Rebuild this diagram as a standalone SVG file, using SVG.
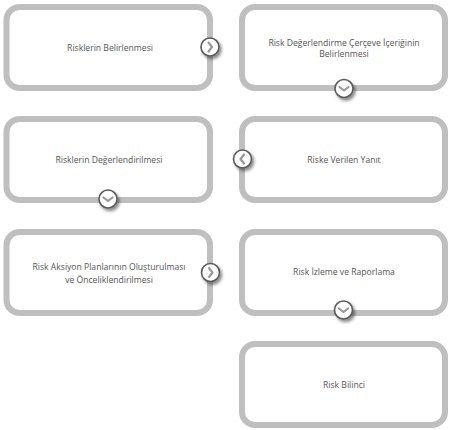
<svg xmlns="http://www.w3.org/2000/svg" width="450" height="430" viewBox="0 0 450 430">
<style>
.box{fill:#fff;stroke:#bfbfbf;stroke-width:6}
.t{font-family:"Open Sans",Lato,sans-serif;font-size:8.6px;fill:#555;text-anchor:middle;dominant-baseline:central}
.c{fill:#fff;stroke:#5a5a5a;stroke-width:1.6}
.ch{fill:none;stroke:#999;stroke-width:2.2;stroke-linecap:round;stroke-linejoin:round}
</style>
<defs>
<filter id="sh" x="-50%" y="-50%" width="200%" height="200%">
<feDropShadow dx="2" dy="2.5" stdDeviation="1.6" flood-color="#000" flood-opacity="0.45"/>
</filter>
<g id="right"><circle class="c" r="9" filter="url(#sh)"/><path class="ch" d="M-1.5,-4.5 L2,0 L-1.5,4.5"/></g>
<g id="left"><circle class="c" r="9" filter="url(#sh)"/><path class="ch" d="M1.5,-4.5 L-2,0 L1.5,4.5"/></g>
<g id="down"><circle class="c" r="9" filter="url(#sh)"/><path class="ch" d="M-4.5,-1.5 L0,2 L4.5,-1.5"/></g>
</defs>
<g id="n1"><rect class="box" x="6.5" y="7" width="203.5" height="81" rx="13"/><text class="t" x="110" y="47.5">Risklerin Belirlenmesi</text></g>
<g id="n2"><rect class="box" x="242" y="7" width="203" height="81" rx="13"/><text class="t" x="344" y="42.5">Risk Değerlendirme Çerçeve İçeriğinin</text><text class="t" x="344" y="54">Belirlenmesi</text></g>
<g id="n3"><rect class="box" x="6.5" y="119" width="203.5" height="81" rx="13"/><text class="t" x="109" y="160">Risklerin Değerlendirilmesi</text></g>
<g id="n4"><rect class="box" x="242" y="119" width="203" height="81" rx="13"/><text class="t" x="344" y="160">Riske Verilen Yanıt</text></g>
<g id="n5"><rect class="box" x="6.5" y="232" width="203.5" height="81" rx="13"/><text class="t" x="109" y="267">Risk Aksiyon Planlarının Oluşturulması</text><text class="t" x="109" y="279.5">ve Önceliklendirilmesi</text></g>
<g id="n6"><rect class="box" x="242" y="232" width="203" height="81" rx="13"/><text class="t" x="344" y="272">Risk İzleme ve Raporlama</text></g>
<g id="n7"><rect class="box" x="242" y="344" width="203" height="81" rx="13"/><text class="t" x="344" y="385">Risk Bilinci</text></g>
<g id="connectors">
<use href="#right" x="210" y="47"/>
<use href="#down" x="344" y="88.5"/>
<use href="#left" x="242.5" y="159"/>
<use href="#down" x="108" y="199"/>
<use href="#right" x="210.5" y="272.5"/>
<use href="#down" x="343.5" y="310"/>
</g>
</svg>
